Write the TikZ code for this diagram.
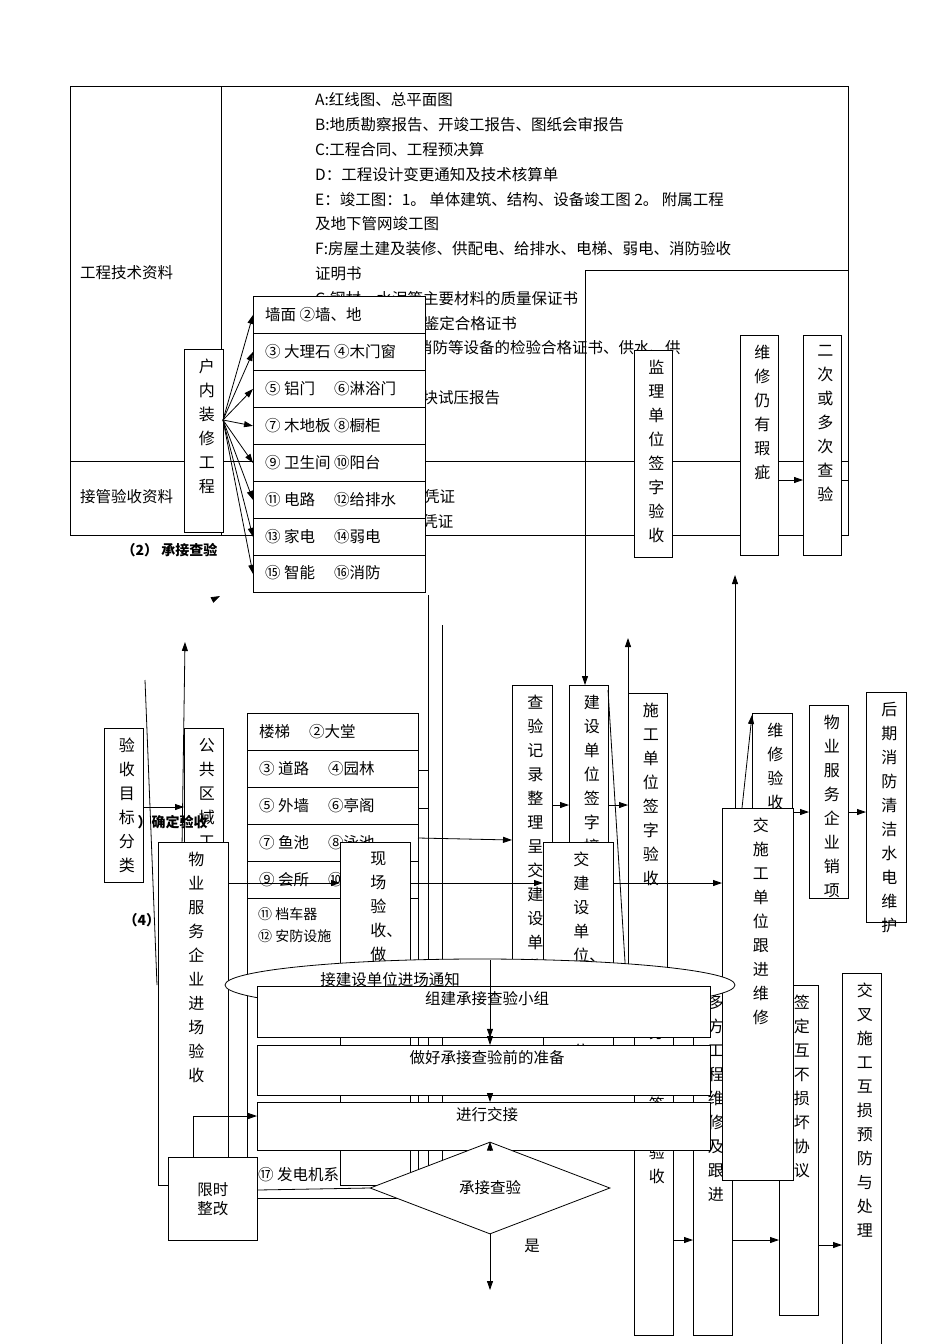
\documentclass[tikz,border=0pt]{standalone}
\usepackage{fontspec}
\setmainfont{Noto Sans CJK SC}
\XeTeXlinebreaklocale "zh"
\XeTeXlinebreakskip=0pt plus 1pt
\usetikzlibrary{arrows.meta,shapes.geometric}
\tikzset{
 bx/.style={draw,fill=white,anchor=north west,inner sep=0,line width=0.8pt},
 vt/.style={anchor=north,text width=1em,align=center,inner sep=0,font=\fontsize{16}{24}\selectfont},
 ht/.style={anchor=west,inner sep=0,font=\fontsize{15.5}{18}\selectfont},
 ar/.style={-{Triangle[length=9pt,width=6pt]},line width=0.8pt},
 ln/.style={line width=0.8pt}
}
\newcommand\VB[6]{\node[bx,minimum width={#3pt-#1pt},minimum height={#4pt-#2pt}] (#6) at (#1,#2) {};
 \node[vt] at ([yshift=-10pt]#6.north) {#5};}
\begin{document}
\begin{tikzpicture}[x=1pt,y=-1pt]
\useasboundingbox (0,0) rectangle (950,1344);
% table
\node[draw,ln,anchor=north west,minimum width=778pt,minimum height=449pt,inner sep=0] (tab) at (70,86) {};
\draw[ln] (221,86) -- (221,535);
\draw[ln] (70,461) -- (848,461);
\node[ht] at (80,273) {工程技术资料};
\node[ht] at (80,497) {接管验收资料};
\foreach \t [count=\i from 0] in {A:红线图、总平面图,B:地质勘察报告、开竣工报告、图纸会审报告,C:工程合同、工程预决算,D：工程设计变更通知及技术核算单,E：竣工图：1。 单体建筑、结构、设备竣工图 2。 附属工程,及地下管网竣工图,F:房屋土建及装修、供配电、给排水、电梯、弱电、消防验收,证明书,G:钢材、水泥等主要材料的质量保证书,H:预制构配件的鉴定合格证书,I:供水、供电、消防等设备的检验合格证书、供水、供,J:设备技术资料,K:砂浆、混凝土块试压报告,L:管线竣工图,M:其他资料,N:移交手续,O:公共设备确认凭证,P:物业本体确认凭证}
 \node[ht] at (315,100+24.8*\i) {\t};
% loop line
\draw[ln] (841,480) -- (848,480) -- (848,270) -- (585,270);
\draw[ar] (585,270) -- (585,685);
% right upper boxes
\VB{634}{350}{672}{557}{监理单位签字验收}{jl}
\VB{740}{335}{778}{555}{维修仍有瑕疵}{wx}
\VB{803}{335}{841}{555}{二次或多次查验}{ec}
\draw[ar] (wx.east|-0,480) -- (ec.west|-0,480);
% 户内装修
\VB{184}{349}{223}{532}{户内装修工程}{hn}
\foreach \t [count=\i from 0] in {墙面 ②墙、地,③ 大理石 ④木门窗,⑤ 铝门 \quad ⑥淋浴门,⑦ 木地板 ⑧橱柜,⑨ 卫生间 ⑩阳台,⑪ 电路 \quad ⑫给排水,⑬ 家电 \quad ⑭弱电,⑮ 智能 \quad ⑯消防}{
 \node[bx,minimum width=172pt,minimum height=37pt] (r\i) at (253,296+37*\i) {};
 \node[ht] at ([xshift=12pt]r\i.west) {\t};
 \draw[ar] (223,420) -- (r\i.west);}
\node[anchor=west,font=\bfseries\itshape\fontsize{14}{16}\selectfont] at (118,550) {（2） 承接查验};
\node[bx,minimum width=172pt,minimum height=37pt] (r7b) at (253,555) {};
\node[ht] at (265,573) {⑮ 智能 \quad ⑯消防};
\draw[ar] (212,600) -- (220,596);
% vertical lines
\draw[ln] (428,595) -- (428,1180);
\draw[ln] (442,625) -- (442,1170);
\draw[ar] (735,810) -- (735,575);
\draw[ar] (628,1000) -- (628,638);
% lower left
\draw[ln] (145,680) -- (157,985);
\draw[ar] (180,985) -- (185,642);
\VB{104}{728}{143}{882}{验收目标分类}{mb}
\VB{184}{728}{223}{960}{公共区域工程}{gg}
\draw[ar] (143,807) -- (184,807);
\node[anchor=west,font=\bfseries\itshape\fontsize{14}{16}\selectfont] at (134,822) {）确定验收};
\node[anchor=west,font=\bfseries\itshape\fontsize{14}{16}\selectfont] at (120,920) {（4） 接管};
\foreach \t [count=\i from 0] in {楼梯 \quad ②大堂,③ 道路 \quad ④园林,⑤ 外墙 \quad ⑥亭阁,⑦ 鱼池 \quad ⑧泳池,⑨ 会所 \quad ⑩}{
 \node[bx,minimum width=171pt,minimum height=37pt] (p\i) at (247,713+37*\i) {};
 \node[ht] at ([xshift=12pt]p\i.west) {\t};}
\node[bx,minimum width=171pt,minimum height=300pt] (p5) at (247,898) {};
\node[ht,align=left,font=\fontsize{14}{22}\selectfont] at (258,925) {⑪ 档车器\\⑫ 安防设施};
\node[ht] at (258,1175) {⑰ 发电机系};
\draw[ln] (418,770) -- (428,770) (418,808) -- (428,808);
% middle columns
\VB{512}{685}{552}{960}{查验记录整理呈交建设单位}{cy}
\VB{569}{685}{608}{970}{建设单位签字接收}{js}
\VB{628}{693}{667}{985}{施工单位签字验收}{sg}
\draw[ln] (608,690) -- (628,1010);
\draw[ar] (418,838) -- (cy.west|-0,840);
\draw[ar] (552,805) -- (569,805);
\draw[ar] (608,805) -- (628,805);
% right
\VB{752}{713}{792}{900}{维修验收合格}{wy}
\VB{809}{705}{848}{898}{物业服务企业销项}{xx}
\VB{866}{692}{906}{922}{后期消防清洁水电维护}{hq}
\draw[ar] (848,812) -- (866,812);
\node[bx,minimum width=39pt,minimum height=350pt] (fb) at (634,985) {};
\node[vt] at ([yshift=-40pt]fb.north) {分包商签字验收};
\VB{693}{985}{732}{1335}{多方工程维修及跟进}{df}
\VB{779}{985}{818}{1315}{签定互不损坏协议}{qd}
\VB{842}{973}{881}{1344}{交叉施工互损预防与处理}{jc}
\draw[ar] (673,1240) -- (693,1240);
\draw[ar] (732,1240) -- (779,1240);
\draw[ar] (818,1245) -- (842,1245);
\VB{722}{808}{793}{1180}{交施工单位跟进维修}{jsg}
\draw[ar] (742,808) -- (752,715);
\draw[ar] (793,812) -- (809,812);
% overlay column boxes
\VB{158}{842}{228}{1185}{物业服务企业进场验收}{wy2}
\VB{340}{842}{410}{1185}{现场验收、做好记录}{xc}
\VB{543}{842}{613}{1075}{交建设单位、监理单位}{jj}
\draw[ar] (228,883) -- (340,883);
\draw[ar] (410,883) -- (543,883);
\draw[ar] (613,883) -- (722,883);
% ellipse and flow
\node[ellipse,draw,fill=white,ln,minimum width=510pt,minimum height=52pt] (el) at (480,985) {};
\node[font=\fontsize{15.5}{18}\selectfont] at (390,980) {接建设单位进场通知};
\node[bx,minimum width=453pt,minimum height=51pt] (z1) at (257,986) {};
\node[font=\fontsize{15.5}{18}\selectfont] at (487,999) {组建承接查验小组};
\node[bx,minimum width=453pt,minimum height=50pt] (z2) at (257,1045) {};
\node[font=\fontsize{15.5}{18}\selectfont] at (487,1058) {做好承接查验前的准备};
\node[bx,minimum width=453pt,minimum height=48pt] (z3) at (257,1102) {};
\node[font=\fontsize{15.5}{18}\selectfont] at (487,1115) {进行交接};
\node[diamond,draw,fill=white,ln,aspect=2.6,minimum width=240pt,minimum height=92pt,inner sep=0] (dm) at (490,1188) {};
\node[font=\fontsize{15.5}{18}\selectfont] at (dm) {承接查验};
\node[font=\fontsize{15.5}{18}\selectfont] at (532,1246) {是};
\draw[ar] (490,960) -- (z1.south-|490,0);
\draw[ar] (490,1037) -- (z2.north-|490,0);
\draw[ar] (490,1095) -- (z3.north-|490,0);
\draw[ar] (490,1150) -- (dm.north);
\draw[ar] (dm.south) -- (490,1290);
\node[bx,minimum width=89pt,minimum height=83pt] (xs) at (168,1157) {};
\node[align=center,font=\fontsize{15.5}{19}\selectfont] at (xs) {限时\\整改};
\draw[ar] (193,1157) -- (193,1116) -- (z3.west|-0,1116);
\draw[ln] (dm.west) -- (xs.east|-0,1190);
\end{tikzpicture}
\end{document}
